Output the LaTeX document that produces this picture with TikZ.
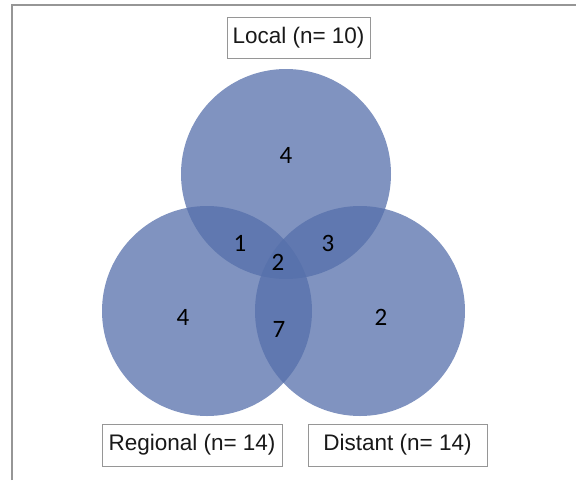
\documentclass[tikz,border=0pt]{standalone}
\usepackage{fontspec}
\setmainfont{Liberation Sans}
\newfontfamily\numfont{Carlito}
\begin{document}
\begin{tikzpicture}[x=1pt,y=-1pt,
  setc/.style={fill={rgb,255:red,86;green,112;blue,171},fill opacity=0.75,draw=none},
  lab/.style={draw={rgb,255:red,150;green,150;blue,150},line width=1pt,fill=white,
    inner sep=0pt,font=\fontsize{22.5}{26}\selectfont,text=black!90},
  num/.style={font=\numfont\fontsize{25}{28}\selectfont,text=black,inner sep=0pt}]
\useasboundingbox (0,0) rectangle (576,480);
\fill[white] (0,0) rectangle (576,480);
\draw[line width=2pt,draw={rgb,255:red,150;green,150;blue,150}] (12,480) -- (12,5) -- (576,5);
\fill[setc] (286,174) circle[radius=105];
\fill[setc] (207,311) circle[radius=105];
\fill[setc] (360,311) circle[radius=105];
\node[lab,minimum width=143,minimum height=41] (local) at (298.5,37.5) {Local (n= 10)};
\node[lab,minimum width=180,minimum height=42] (regional) at (192,445) {Regional (n= 14)};
\node[lab,minimum width=179,minimum height=42] (distant) at (397.5,445) {Distant (n= 14)};
\node[num] (nl) at (286,155) {4};
\node[num] (nlr) at (240,243) {1};
\node[num] (nall) at (278,262) {2};
\node[num] (nld) at (328,243) {3};
\node[num] (nr) at (183,317) {4};
\node[num] (nrd) at (279,329) {7};
\node[num] (nd) at (381,317) {2};
\end{tikzpicture}
\end{document}
